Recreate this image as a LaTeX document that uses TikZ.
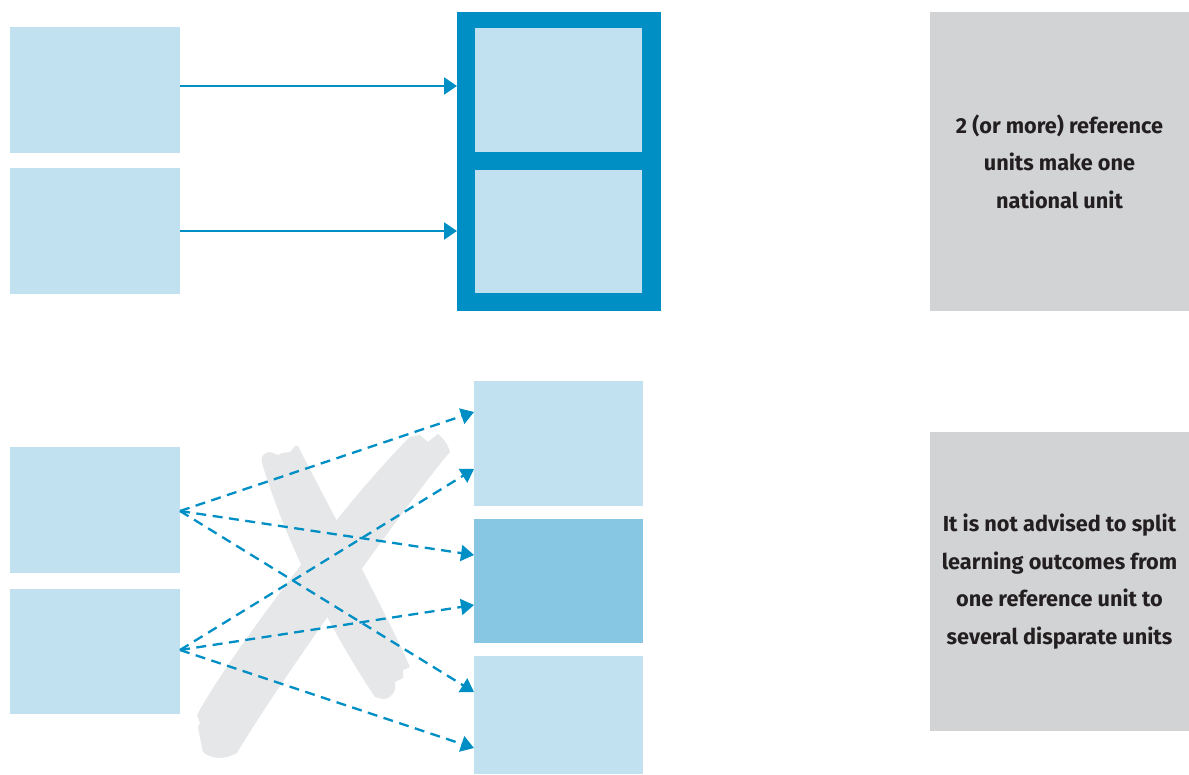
\documentclass[tikz,border=0pt]{standalone}
\usepackage{fontspec}
\setmainfont{Fira Sans}
\usetikzlibrary{arrows.meta}
\definecolor{lightbox}{HTML}{C1E1F1}
\definecolor{midbox}{HTML}{87C7E4}
\definecolor{frameblue}{HTML}{008FC5}
\definecolor{greybox}{HTML}{D2D3D5}
\definecolor{crossgrey}{HTML}{E6E7E8}
\definecolor{txt}{HTML}{231F20}
\tikzset{
  unitbox/.style={fill=lightbox, draw=none, inner sep=0pt, outer sep=0pt, minimum width=#1},
  unitbox/.default=170pt,
  notebox/.style={fill=greybox, draw=none, inner sep=0pt, outer sep=0pt, minimum width=259pt, minimum height=299pt},
  notetext/.style={text=txt, align=center, font=\fontsize{21.7}{37.5}\selectfont\bfseries},
  solidarrow/.style={draw=frameblue, line width=2.3pt, -{Triangle[length=13pt,width=17pt]}},
  dasharrow/.style={draw=frameblue, line width=2.3pt, dash pattern=on 10pt off 6.5pt, -{Triangle[length=13pt,width=16pt]}},
}
\begin{document}
\begin{tikzpicture}[x=1pt,y=-1pt]
\useasboundingbox (0,0) rectangle (1189,774);
% ---------- top row ----------
\node[unitbox, minimum height=126pt] (a1) at (95,90) {};
\node[unitbox, minimum height=126pt] (a2) at (95,231) {};
\node[fill=frameblue, inner sep=0pt, outer sep=0pt, minimum width=204pt, minimum height=299pt] (frame) at (559,161.5) {};
\node[unitbox=167pt, minimum height=124pt] (b1) at (558.5,90) {};
\node[unitbox=167pt, minimum height=123pt] (b2) at (558.5,231.5) {};
\coordinate (s1) at (a1.east |- 0,86);
\draw[solidarrow] (s1) -- (frame.west |- s1);
\draw[solidarrow] (a2.east) -- (frame.west |- a2.east);
\node[notebox] (n1) at (1059.5,161.5) {};
\node[notetext] at (n1.center) {2 (or more) reference\\units make one\\national unit};
% ---------- bottom row ----------
% grey cross, stroke 1 (top-left to bottom-right)
\fill[crossgrey] (262,463) .. controls (260,457) and (264,452) .. (270,452)
  -- (278,455) -- (282,453) -- (290,452) -- (295,446) -- (298,446)
  .. controls (320,490) and (385,610) .. (410,667)
  -- (403,670) -- (403,678) -- (395,682) -- (395,690)
  .. controls (392,697) and (387,699) .. (383,699) -- (375,697)
  .. controls (330,630) and (285,540) .. (262,463) -- cycle;
% stroke 2 (top-right to bottom-left)
\fill[crossgrey] (410,437) -- (420,435) -- (428,442) -- (438,434)
  .. controls (443,438) and (448,444) .. (450,452)
  .. controls (415,492) and (280,680) .. (237,753)
  .. controls (228,758) and (218,759) .. (213,757)
  .. controls (205,755) and (202,752) .. (202,748)
  -- (198,727) -- (200,723) -- (197,715)
  .. controls (232,650) and (355,490) .. (410,437) -- cycle;
\node[unitbox, minimum height=126pt] (c1) at (95,510) {};
\node[unitbox, minimum height=125pt] (c2) at (95,651.5) {};
\node[unitbox=169pt, minimum height=125pt] (d1) at (558.5,443.5) {};
\node[unitbox=169pt, minimum height=124pt, fill=midbox] (d2) at (558.5,581) {};
\node[unitbox=169pt, minimum height=118pt] (d3) at (558.5,715) {};
\coordinate (p1) at (180,511);
\coordinate (p2) at (180,650);
\draw[dasharrow] (p1) -- (d1.west |- 0,412);
\draw[dasharrow] (p2) -- (d1.west |- 0,469);
\draw[dasharrow] (p1) -- (d2.west |- 0,555);
\draw[dasharrow] (p2) -- (d2.west |- 0,605);
\draw[dasharrow] (p1) -- (d3.west |- 0,692);
\draw[dasharrow] (p2) -- (d3.west |- 0,748);
\node[notebox] (n2) at (1059.5,581.5) {};
\node[notetext] at (n2.center) {It is not advised to split\\learning outcomes from\\one reference unit to\\several disparate units};
\end{tikzpicture}
\end{document}
